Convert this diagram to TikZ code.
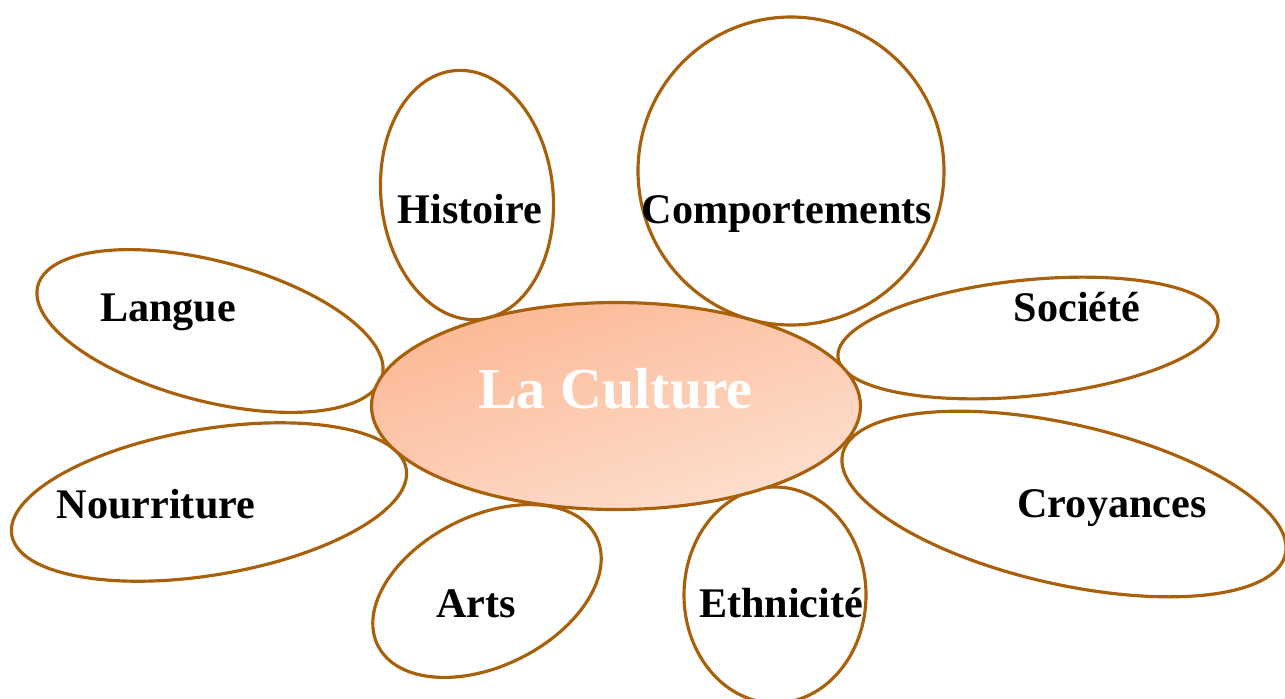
\documentclass[tikz,border=0pt]{standalone}
\usepackage{fontspec}
\setmainfont{Liberation Serif}
\usepackage{xcolor}
\usepackage{tikz}
\usetikzlibrary{shapes.geometric}

\definecolor{petalline}{RGB}{168,96,10}
\definecolor{coredark}{RGB}{251,184,148}
\definecolor{corelight}{RGB}{254,223,207}

\begin{document}
\begin{tikzpicture}[
        x=0.02cm, y=-0.02cm,
        petal/.style={ellipse, draw=petalline, line width=1.8pt, inner sep=0pt, outer sep=0pt},
        core/.style={ellipse, draw=petalline, line width=1.8pt, inner sep=0pt, outer sep=0pt,
            top color=coredark, bottom color=corelight, shading angle=18},
        word/.style={anchor=base, font=\fontsize{24}{28}\selectfont\bfseries},
        coretext/.style={anchor=base, text=white, font=\fontsize{33}{38}\selectfont\bfseries}
    ]
    
    % ---------- parametres ----------
    \def\px{0.02cm}
    \useasboundingbox (0,0) rectangle (1285,698);
    
    % ---------- petales ----------
    \foreach \n/\x/\y/\a/\b/\r in {
        histoire/467/195/86/125/6,
        comport/791/171/153/154/0,
        langue/210/331/178/70/-14.7,
        societe/1028/338/191/58/5.8,
        nourriture/209/502/200/73/9.5,
        croyances/1064/504/227/80/-12.8,
        arts/487/591/122/75/26.5,
        ethnicite/775/595/91/108/0} {
        \node[petal, minimum width=2*\a*\px, minimum height=2*\b*\px, rotate=\r] (\n) at (\x,\y) {};
    }
    
    % ---------- centre ----------
    \node[core, minimum width=489*\px, minimum height=207*\px] (culture) at (616,406) {};
    
    % ---------- textes ----------
    \foreach \n/\x/\y/\t in {
        histoireT/470/223/Histoire,
        comportT/787/223/Comportements,
        langueT/168/321/Langue,
        societeT/1077/321/Société,
        nourritureT/156/518/Nourriture,
        croyancesT/1112/517/Croyances,
        artsT/476/617/Arts,
        ethniciteT/781/617/Ethnicité} {
        \node[word] (\n) at (\x,\y) {\t};
    }
    \node[coretext] (cultureT) at (615.5,408) {La Culture};
    
\end{tikzpicture}
\end{document}
